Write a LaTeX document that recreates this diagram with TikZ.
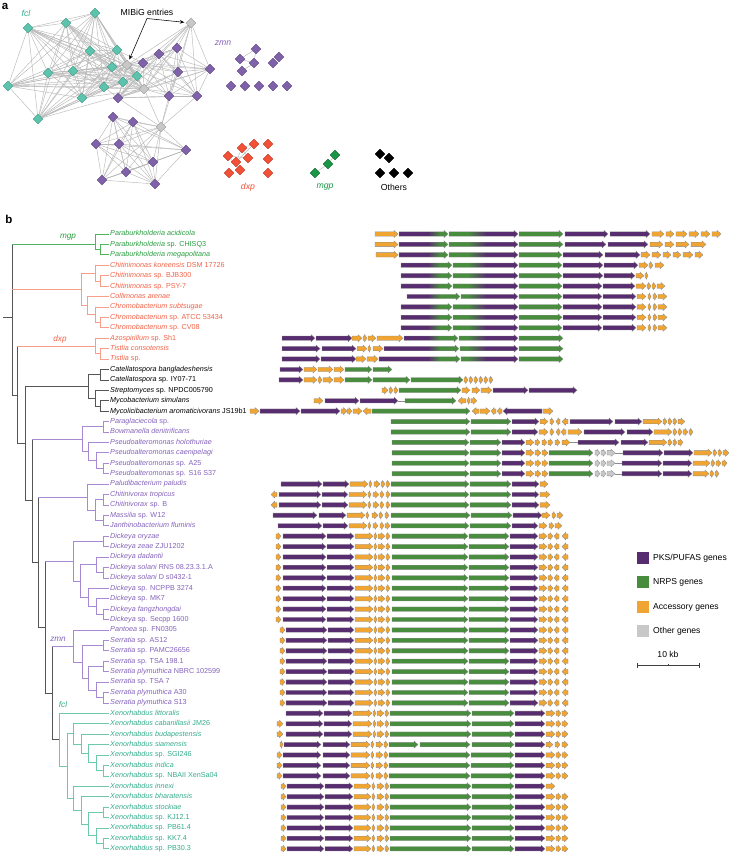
\documentclass[tikz,border=0pt]{standalone}
\usepackage{fontspec}
\setmainfont{Liberation Sans}
\usetikzlibrary{shapes.geometric,arrows.meta,backgrounds}
\definecolor{cP}{RGB}{88,45,112}
\definecolor{cG}{RGB}{72,140,62}
\definecolor{cO}{RGB}{240,165,50}
\definecolor{cL}{RGB}{200,200,200}
\definecolor{tGt}{RGB}{40,158,64}
\definecolor{tRt}{RGB}{242,98,72}
\definecolor{tVt}{RGB}{132,98,186}
\definecolor{tTt}{RGB}{52,172,140}
\definecolor{bG}{RGB}{80,180,95}
\definecolor{bR}{RGB}{246,158,138}
\definecolor{bK}{RGB}{85,85,85}
\definecolor{bV}{RGB}{168,138,212}
\definecolor{bT}{RGB}{110,200,172}
\definecolor{nT}{RGB}{92,196,174}
\definecolor{nTd}{RGB}{60,150,130}
\definecolor{nV}{RGB}{128,98,170}
\definecolor{nVd}{RGB}{90,68,125}
\definecolor{nL}{RGB}{200,200,200}
\definecolor{nLd}{RGB}{150,150,150}
\definecolor{nR}{RGB}{242,80,55}
\definecolor{nRd}{RGB}{190,55,35}
\definecolor{nG}{RGB}{25,150,70}
\definecolor{nGd}{RGB}{15,100,45}
\tikzset{
 gn/.style={draw=black!45,line width=0.3pt},
 leaf/.style={anchor=west,inner sep=0pt,font=\fontsize{7.2}{8}\selectfont,text height=5.2pt,text depth=1.4pt},
 dia/.style={diamond,minimum size=10pt,inner sep=0pt,line width=0.3pt},
 net/.style={draw=black!28,line width=0.45pt},
 plab/.style={inner sep=0pt,font=\fontsize{8.7}{10}\selectfont},
 clab/.style={inner sep=0pt,font=\fontsize{8.2}{10}\selectfont\itshape},
 lg/.style={inner sep=0pt,anchor=west,font=\fontsize{8.6}{10}\selectfont},
 sq/.style={minimum size=12pt,inner sep=0pt},
 pan/.style={inner sep=0pt,font=\fontsize{11.5}{12}\selectfont\bfseries}
}
\newcommand\gene[4]{%
 \pgfmathsetmacro\hd{ifthenelse(#3>#2,1,-1)*min(4,0.6*abs(#3-#2))}%
 \pgfmathsetmacro\xh{#3-\hd}%
 \filldraw[gn,fill=c#4] (#2,#1-2.2) -- (\xh,#1-2.2) -- (\xh,#1-3.6) -- (#3,#1) -- (\xh,#1+3.6) -- (\xh,#1+2.2) -- (#2,#1+2.2) -- cycle;}
\newcommand\grow[2]{%
 \pgfmathsetmacro\ry{234+10.42*#1}%
 \edef\glist{#2}%
 \foreach \a/\b/\c in \glist {\gene{\ry}{\a}{\b}{\c}}}
\newcommand\hyb[7]{%
 \pgfmathsetmacro\ry{234+10.42*#1}%
 \pgfmathsetmacro\hd{min(4,0.6*abs(#3-#2))}%
 \pgfmathsetmacro\xh{#3-\hd}%
 \begin{scope}
 \clip (#2,\ry-2.2) -- (\xh,\ry-2.2) -- (\xh,\ry-3.6) -- (#3,\ry) -- (\xh,\ry+3.6) -- (\xh,\ry+2.2) -- (#2,\ry+2.2) -- cycle;
 \fill[#4] (#2,\ry-5) rectangle (#6,\ry+5);
 \shade[left color=#4,right color=#5] (#6,\ry-5) rectangle (#7,\ry+5);
 \fill[#5] (#7,\ry-5) rectangle (#3,\ry+5);
 \end{scope}
 \draw[gn] (#2,\ry-2.2) -- (\xh,\ry-2.2) -- (\xh,\ry-3.6) -- (#3,\ry) -- (\xh,\ry+3.6) -- (\xh,\ry+2.2) -- (#2,\ry+2.2) -- cycle;}
\newcommand\hAB[4]{\hyb{#1}{#2}{#3}{cP}{cG}{428}{440}\hyb{#1}{#4}{518}{cG}{cP}{468}{486}}
\newcommand\vl[3]{\draw (#1,#2) -- (#1,#3);}
\newcommand\hl[3]{\draw (#1,#3) -- (#2,#3);}
\newcommand\lf[2]{\draw (#1,0 |- l#2.west) -- ([xshift=-1.2pt]l#2.west);}
\def\dickT{283/326/P,327/354/P,355/373/O,374/377/O,378/385/O,386/390/O,392/468/G,469/509/G,510/538/P,539/547/O,548/553/O,559/554/O,568/562/O}
\def\serT{286/327/P,328/354/P,355/373/O,374/377/O,378/385/O,386/390/O,392/468/G,469/509/G,510/538/P,539/547/O,548/553/O,559/554/O,568/562/O}
\def\xenA{324/352/P,353/372/O,373/376/O,377/384/O,385/389/O,390/471/G,472/514/G,515/545/P,546/555/O,556/561/O,562/568/O}
\def\xenB{287/324/P,325/353/P,354/371/O,372/375/O,377/384/O,385/389/O,390/471/G,472/514/G,515/545/P,546/555/O}
\begin{document}
\begin{tikzpicture}[x=1pt,y=-1pt]
\useasboundingbox (0,0) rectangle (731,852);

% ================= panel a =================
\node[pan] (pa) at (5,6) {a};
\foreach \n/\x/\y in {t1/95/13,t2/28/28,t3/66/23,t4/90/51,t5/117/50,t6/48/73,t7/73/71,t8/112/67,t9/8/86,t10/104/87,t11/82/98,t12/123/82,t13/137/76,t14/38/119}
  \node[dia,fill=nT,draw=nTd] (\n) at (\x,\y) {};
\foreach \n/\x/\y in {g1/191/23,g2/127/65,g3/144/89,g4/161/127}
  \node[dia,fill=nL,draw=nLd] (\n) at (\x,\y) {};
\foreach \n/\x/\y in {p1/177/48,p2/159/54,p3/143/63,p4/210/69,p5/178/72,p6/118/98,p7/169/96,p8/197/96,
  q1/113/117,q2/133/122,q3/96/144,q4/119/144,q5/186/150,q6/153/162,q7/126/172,q8/102/180,q9/155/184,
  z1/256/49,z2/240/59,z3/254/63,z4/242/71,z5/273/63,z6/279/57,z7/231/86,z8/245/86,z9/259/86,z10/273/86,z11/287/86}
  \node[dia,fill=nV,draw=nVd] (\n) at (\x,\y) {};
\foreach \n/\x/\y in {d1/228/156,d2/242/148,d3/254/144,d4/268/144,d5/236/162,d6/248/158,d7/268/159,d8/229/173,d9/240/170,d10/268/173}
  \node[dia,fill=nR,draw=nRd] (\n) at (\x,\y) {};
\foreach \n/\x/\y in {m1/315/173,m2/328/164,m3/335/155}
  \node[dia,fill=nG,draw=nGd] (\n) at (\x,\y) {};
\foreach \n/\x/\y in {o1/380/154,o2/389/158,o3/380/173,o4/394/173,o5/408/173}
  \node[dia,fill=black,draw=black] (\n) at (\x,\y) {};
\begin{pgfonlayer}{background}
\def\Tset{t1,t2,t3,t4,t5,t6,t7,t8,t9,t10,t11,t12,t13,t14,g2,g3}
\foreach \u [count=\i] in \Tset {\foreach \v [count=\j] in \Tset {\ifnum\j>\i\relax\draw[net] (\u) -- (\v);\fi}}
\def\Pset{p1,p2,p3,p4,p5,p6,p7,p8,g1,g2,g3}
\foreach \u [count=\i] in \Pset {\foreach \v [count=\j] in \Pset {\ifnum\j>\i\relax\draw[net] (\u) -- (\v);\fi}}
\def\Qset{q1,q2,q3,q4,q5,q6,q7,q8,q9,g4}
\foreach \u [count=\i] in \Qset {\foreach \v [count=\j] in \Qset {\ifnum\j>\i\relax\draw[net] (\u) -- (\v);\fi}}
\foreach \u/\v in {g4/p6,g4/p7,g4/p8,g4/g3,g4/p5,t13/p3,t12/p6,t10/p6,t8/p3,t5/p3,t13/p6,t12/p3,
  z2/z1,z2/z3,z1/z3,z4/z3,z5/z6,d1/d6,d2/d3,d5/d3,d2/d6,d1/d9,d5/d2,m1/m2,m2/m3}
  \draw[net] (\u) -- (\v);
\end{pgfonlayer}
\node[plab,text=tTt,font=\fontsize{8.7}{10}\selectfont\itshape] (lfcl) at (26,13) {fcl};
\node[plab,text=tVt,font=\fontsize{8.7}{10}\selectfont\itshape] (lzmn) at (223,43) {zmn};
\node[plab,text=nR,font=\fontsize{8.7}{10}\selectfont\itshape] (ldxp) at (248,187) {dxp};
\node[plab,text=nG,font=\fontsize{8.7}{10}\selectfont\itshape] (lmgp) at (325,187) {mgp};
\node[plab] (loth) at (394,187) {Others};
\node[plab] (mib) at (147,12) {MIBiG entries};
\coordinate (mb) at (147,18.5);
\draw[-{Stealth[length=4.5pt,width=3.5pt]},line width=0.55pt,shorten >=2pt] (mb) -- (g1);
\draw[-{Stealth[length=4.5pt,width=3.5pt]},line width=0.55pt,shorten >=2pt] (mb) -- (g2);

% ================= panel b =================
\node[pan] (pb) at (9,219) {b};

% leaves
\foreach \t [count=\i from 0] in {{\textit{Paraburkholderia acidicola}},{\textit{Paraburkholderia} sp. CHISQ3},{\textit{Paraburkholderia megapolitana}}}
  \node[leaf,text=tGt] (l\i) at (110,{234+10.42*\i}) {\t};
\foreach \t [count=\i from 3] in {{\textit{Chitinimonas koreensis} DSM 17726},{\textit{Chitinimonas} sp. BJB300},{\textit{Chitinimonas} sp. PSY-7},{\textit{Collimonas arenae}},{\textit{Chromobacterium subtsugae}},{\textit{Chromobacterium} sp. ATCC 53434},{\textit{Chromobacterium} sp. CV08},{\textit{Azospirillum} sp. Sh1},{\textit{Tistlia consotensis}},{\textit{Tistlia} sp.}}
  \node[leaf,text=tRt] (l\i) at (110,{234+10.42*\i}) {\t};
\foreach \t [count=\i from 13] in {{\textit{Catellatospora bangladeshensis}},{\textit{Catellatospora} sp. IY07-71},{\textit{Streptomyces} sp. NPDC005790},{\textit{Mycobacterium simulans}},{\textit{Mycolicibacterium aromaticivorans} JS19b1}}
  \node[leaf,text=black] (l\i) at (110,{234+10.42*\i}) {\t};
\foreach \t [count=\i from 18] in {{\textit{Paraglaciecola} sp.},{\textit{Bowmanella denitrificans}},{\textit{Pseudoalteromonas holothuriae}},{\textit{Pseudoalteromonas caenipelagi}},{\textit{Pseudoalteromonas} sp. A25},{\textit{Pseudoalteromonas} sp. S16 S37},{\textit{Paludibacterium paludis}},{\textit{Chitinivorax tropicus}},{\textit{Chitinivorax} sp. B},{\textit{Massilia} sp. W12},{\textit{Janthinobacterium fluminis}},{\textit{Dickeya oryzae}},{\textit{Dickeya zeae} ZJU1202},{\textit{Dickeya dadantii}},{\textit{Dickeya solani} RNS 08.23.3.1.A},{\textit{Dickeya solani} D s0432-1},{\textit{Dickeya} sp. NCPPB 3274},{\textit{Dickeya} sp. MK7},{\textit{Dickeya fangzhongdai}},{\textit{Dickeya} sp. Secpp 1600},{\textit{Pantoea} sp. FN0305},{\textit{Serratia} sp. AS12},{\textit{Serratia} sp. PAMC26656},{\textit{Serratia} sp. TSA 198.1},{\textit{Serratia plymuthica} NBRC 102599},{\textit{Serratia} sp. TSA 7},{\textit{Serratia plymuthica} A30},{\textit{Serratia plymuthica} S13}}
  \node[leaf,text=tVt] (l\i) at (110,{234+10.42*\i}) {\t};
\foreach \t [count=\i from 46] in {{\textit{Xenorhabdus littoralis}},{\textit{Xenorhabdus cabanillasii} JM26},{\textit{Xenorhabdus budapestensis}},{\textit{Xenorhabdus siamensis}},{\textit{Xenorhabdus} sp. SGI246},{\textit{Xenorhabdus indica}},{\textit{Xenorhabdus} sp. NBAII XenSa04},{\textit{Xenorhabdus innexi}},{\textit{Xenorhabdus bharatensis}},{\textit{Xenorhabdus stockiae}},{\textit{Xenorhabdus} sp. KJ12.1},{\textit{Xenorhabdus} sp. PB61.4},{\textit{Xenorhabdus} sp. KK7.4},{\textit{Xenorhabdus} sp. PB30.3}}
  \node[leaf,text=tTt] (l\i) at (110,{234+10.42*\i}) {\t};

% tree
\begin{scope}[line width=0.7pt,line cap=rect]
\begin{scope}[bK]
\draw (3,317) -- (12,317);
\vl{12}{244.4}{394.9}
\hl{12}{17}{394.9} \vl{17}{346.0}{443.5}
\hl{17}{25}{443.5} \vl{25}{386.4}{500.6}
\hl{25}{32}{500.6} \vl{32}{439.2}{562.1}
\hl{32}{38}{562.1} \vl{38}{497.1}{627.1}
\hl{38}{45}{627.1} \vl{45}{561.3}{692.9}
\hl{45}{52}{692.9} \vl{52}{646.0}{739.7}
\hl{52}{59}{739.7}
\hl{25}{88}{386.4} \vl{88}{374.7}{398.1}
\hl{88}{100}{374.7} \vl{100}{369.5}{379.9} \lf{100}{13} \lf{100}{14}
\hl{88}{95}{398.1} \vl{95}{390.3}{405.9} \lf{95}{15}
\hl{95}{100}{405.9} \vl{100}{400.7}{411.1} \lf{100}{16} \lf{100}{17}
\end{scope}
\begin{scope}[bG]
\hl{12}{95}{244.4} \vl{95}{234.0}{249.6} \lf{95}{0}
\hl{95}{100}{249.6} \vl{100}{244.4}{254.8} \lf{100}{1} \lf{100}{2}
\end{scope}
\begin{scope}[bR]
\hl{12}{81}{289.4} \vl{81}{273.1}{305.6}
\hl{81}{95}{273.1} \vl{95}{265.3}{280.9} \lf{95}{3}
\hl{95}{100}{280.9} \vl{100}{275.7}{286.1} \lf{100}{4} \lf{100}{5}
\hl{81}{87}{305.6} \vl{87}{296.5}{314.7} \lf{87}{6}
\hl{87}{95}{314.7} \vl{95}{306.9}{322.6} \lf{95}{7}
\hl{95}{100}{322.6} \vl{100}{317.4}{327.8} \lf{100}{8} \lf{100}{9}
\hl{17}{95}{346.0} \vl{95}{338.2}{353.8} \lf{95}{10}
\hl{95}{100}{353.8} \vl{100}{348.6}{359.0} \lf{100}{11} \lf{100}{12}
\end{scope}
\begin{scope}[bV]
\hl{32}{82}{439.2} \vl{82}{426.8}{451.5}
\hl{82}{103}{426.8} \vl{103}{421.6}{432.0} \lf{103}{18} \lf{103}{19}
\hl{82}{88}{451.5} \vl{88}{442.4}{460.6} \lf{88}{20}
\hl{88}{96}{460.6} \vl{96}{452.8}{468.4} \lf{96}{21}
\hl{96}{103}{468.4} \vl{103}{463.2}{473.7} \lf{103}{22} \lf{103}{23}
\hl{38}{87}{497.1} \vl{87}{484.1}{510.1} \lf{87}{24}
\hl{87}{95}{510.1} \vl{95}{499.7}{520.6}
\hl{95}{103}{499.7} \vl{103}{494.5}{504.9} \lf{103}{25} \lf{103}{26}
\hl{95}{103}{520.6} \vl{103}{515.3}{525.8} \lf{103}{27} \lf{103}{28}
\hl{45}{73}{561.3} \vl{73}{541.4}{581.1}
\hl{73}{103}{541.4} \vl{103}{536.2}{546.6} \lf{103}{29} \lf{103}{30}
\hl{73}{80}{581.1} \vl{80}{564.8}{597.4}
\hl{80}{96}{564.8} \vl{96}{557.0}{572.7} \lf{96}{31}
\hl{96}{103}{572.7} \vl{103}{567.4}{577.9} \lf{103}{32} \lf{103}{33}
\hl{80}{88}{597.4} \vl{88}{588.3}{606.5} \lf{88}{34}
\hl{88}{96}{606.5} \vl{96}{598.7}{614.3} \lf{96}{35}
\hl{96}{103}{614.3} \vl{103}{609.1}{619.5} \lf{103}{36} \lf{103}{37}
\hl{52}{73}{646.0} \vl{73}{630.0}{661.9} \lf{73}{38}
\hl{73}{82}{661.9} \vl{82}{645.6}{678.2}
\hl{82}{103}{645.6} \vl{103}{640.4}{650.8} \lf{103}{39} \lf{103}{40}
\hl{82}{88}{678.2} \vl{88}{666.4}{689.9}
\hl{88}{103}{666.4} \vl{103}{661.2}{671.6} \lf{103}{41} \lf{103}{42}
\hl{88}{96}{689.9} \vl{96}{682.1}{697.7} \lf{96}{43}
\hl{96}{103}{697.7} \vl{103}{692.5}{702.9} \lf{103}{44} \lf{103}{45}
\end{scope}
\begin{scope}[bT]
\vl{59}{713.3}{766.1} \lf{59}{46}
\hl{59}{67}{766.1} \vl{67}{733.8}{798.3}
\hl{67}{73}{733.8} \vl{73}{723.7}{743.9} \lf{73}{47}
\hl{73}{81}{743.9} \vl{81}{734.2}{753.7} \lf{81}{48}
\hl{81}{88}{753.7} \vl{88}{744.6}{762.8} \lf{88}{49}
\hl{88}{96}{762.8} \vl{96}{755.0}{770.6} \lf{96}{50}
\hl{96}{103}{770.6} \vl{103}{765.4}{775.8} \lf{103}{51} \lf{103}{52}
\hl{67}{73}{798.3} \vl{73}{786.3}{810.4} \lf{73}{53}
\hl{73}{81}{810.4} \vl{81}{796.7}{824.0} \lf{81}{54}
\hl{81}{88}{824.0} \vl{88}{812.3}{835.8}
\hl{88}{103}{812.3} \vl{103}{807.1}{817.5} \lf{103}{55} \lf{103}{56}
\hl{88}{96}{835.8} \vl{96}{827.9}{843.6} \lf{96}{57}
\hl{96}{103}{843.6} \vl{103}{838.4}{848.8} \lf{103}{58} \lf{103}{59}
\end{scope}
\end{scope}
\node[clab,text=tGt] (cmgp) at (68,237) {mgp};
\node[clab,text=tRt] (cdxp) at (60,339) {dxp};
\node[clab,text=tVt] (czmn) at (58,639) {zmn};
\node[clab,text=tTt] (cfcl) at (63,705) {fcl};

% gene backbone gaps
\draw[black!45,line width=0.4pt] (398,400.7) -- (405,400.7);
\draw[black!45,line width=0.4pt] (570,442.4) -- (578,442.4);
\foreach \yy in {452.8,463.2,473.7} \draw[black!45,line width=0.4pt] (615,\yy) -- (623,\yy);

% gene clusters
\grow{0}{375/398/O,519/563/G,565/608/P,610/650/P,652/664/O,666/674/O,676/687/O,689/699/O,701/710/O,712/721/O}
\hAB{0}{399}{448}{449}
\grow{1}{375/398/O,519/563/G,565/606/P,608/648/P,650/663/O,665/674/O,676/689/O,691/706/O}
\hAB{1}{399}{448}{449}
\grow{2}{376/398/O,519/562/G,563/603/P,605/640/P,641/650/O,652/661/O,663/671/O,673/681/O,683/693/O,695/703/O}
\hAB{2}{399}{448}{449}
\grow{3}{519/562/G,563/603/P,604/638/P,639/648/O,649/653/O,655/664/O}
\hAB{3}{401}{452}{453}
\grow{4}{519/562/G,563/603/P,604/635/P,636/644/O,645/648/O}
\hAB{4}{401}{452}{453}
\grow{5}{519/562/G,563/602/P,603/635/P,636/646/O,647/651/O,652/656/O,657/665/O}
\hAB{5}{401}{452}{453}
\foreach \r in {6,...,9}{\grow{\r}{519/562/G,563/602/P,603/636/P,637/646/O,648/651/O,653/657/O,658/667/O}}
\hAB{6}{407}{460}{461}
\hAB{7}{401}{452}{453}
\hAB{8}{401}{452}{453}
\hAB{9}{401}{452}{453}
\grow{10}{282/315/P,316/352/P,352/362/O,363/367/O,368/376/O,377/403/O,519/563/G}
\hAB{10}{404}{458}{459}
\grow{11}{282/320/P,322/356/P,357/367/O,368/371/O,373/383/O,519/563/G}
\hAB{11}{384}{459}{460}
\grow{12}{282/320/P,321/356/P,356/366/O,367/378/O,519/563/G}
\hAB{12}{379}{460}{461}
\grow{13}{280/303/P,304/317/O,318/333/O,334/344/O,345/372/G,373/392/G}
\grow{14}{279/303/P,304/317/O,318/322/O,323/333/O,334/344/O,345/372/G,373/410/G,411/463/G,464/468/O,469/473/O,474/478/O,479/483/O,484/488/O,489/493/O}
\grow{15}{382/388/O,389/393/O,394/398/O,399/461/G,462/470/O,472/480/O,481/492/O,493/528/P,529/577/P}
\grow{16}{314/323/O,325/359/P,360/398/P,405/456/G,466/458/O,470/467/O,471/477/O}
\grow{17}{250/259/O,260/300/P,301/340/P,341/347/O,347/352/O,353/362/O,371/363/O,372/470/G,479/472/O,480/490/O,496/491/O,502/497/O,542/503/P,543/553/O}
\grow{18}{391/470/G,471/511/G,512/539/P,540/548/O,550/554/O,560/556/O,568/562/O,570/613/P,615/642/P,643/662/O,663/667/O,668/672/O,673/677/O,678/685/O}
\grow{19}{391/470/G,471/511/G,512/538/P,539/548/O,550/554/O,560/556/O,566/561/O,568/582/O,584/625/P,627/653/P,654/672/O,673/677/O,678/682/O,683/688/O,689/693/O}
\grow{20}{392/469/G,470/501/G,502/525/P,526/534/O,535/540/O,542/547/O,548/553/O,555/560/O,562/570/O,578/619/P,621/648/P,649/667/O,668/672/O,673/677/O,678/683/O}
\grow{21}{392/469/G,470/501/G,502/525/P,526/534/O,535/541/O,542/548/O,549/593/G,595/600/L,601/606/L,607/615/L,623/663/P,664/693/P,694/712/O,713/717/O,718/722/O,723/729/O}
\grow{22}{392/469/G,470/501/G,502/525/P,526/534/O,535/541/O,542/548/O,549/593/G,595/600/L,601/606/L,607/615/L,622/662/P,663/692/P,693/710/O,711/715/O,716/721/O,722/727/O}
\grow{23}{392/469/G,470/501/G,502/525/P,526/534/O,535/541/O,542/548/O,549/593/G,595/600/L,601/606/L,607/615/L,622/662/P,663/692/P,693/709/O,710/714/O,715/719/O}
\grow{24}{281/322/P,323/349/P,350/368/O,369/372/O,374/380/O,381/385/O,386/390/O,391/469/G,470/511/G,512/539/P,540/548/O}
\foreach \r in {25,26}{\grow{\r}{277/271/O,279/321/P,322/348/P,349/367/O,368/371/O,373/379/O,380/384/O,386/390/O,391/469/G,470/511/G,512/539/P,540/550/O}}
\grow{27}{273/317/P,319/346/P,347/365/O,366/369/O,372/378/O,379/383/O,385/389/O,391/470/G,471/512/G,513/542/P,542/550/O,552/556/O,557/563/O}
\grow{28}{278/322/P,323/348/P,349/367/O,368/371/O,373/378/O,380/384/O,385/390/O,391/469/G,470/511/G,512/538/P,539/547/O,549/554/O,555/562/O}
\foreach \r in {29,...,37}{\grow{\r}{276/281/O,\dickT}}
\foreach \r in {38,...,45}{\grow{\r}{280/285/O,\serT}}
\grow{46}{286/323/P,\xenA}
\foreach \r in {47,48}{\grow{\r}{277/283/O,286/323/P,\xenA}}
\grow{49}{280/283/O,284/321/P,323/350/P,351/370/O,371/374/O,376/383/O,384/388/O,389/418/G,420/470/G,472/514/G,515/545/P,546/553/O,555/560/O,562/568/O}
\foreach \r in {50,51,52}{\grow{\r}{277/282/O,283/321/P,323/350/P,351/370/O,371/374/O,376/383/O,384/388/O,389/470/G,471/514/G,515/545/P,546/555/O,556/561/O,562/568/O}}
\grow{53}{281/286/O,\xenB}
\foreach \r in {54,...,59}{\grow{\r}{281/286/O,\xenB,556/561/O,562/568/O}}

% legend
\node[sq,fill=cP] (k1) at (643,558) {};
\node[lg] (k1t) at (653,558) {PKS/PUFAS genes};
\node[sq,fill=cG] (k2) at (643,582) {};
\node[lg] (k2t) at (653,582) {NRPS genes};
\node[sq,fill=cO] (k3) at (643,607) {};
\node[lg] (k3t) at (653,607) {Accessory genes};
\node[sq,fill=cL] (k4) at (643,631) {};
\node[lg] (k4t) at (653,631) {Other genes};
\node[inner sep=0pt,font=\fontsize{8.6}{10}\selectfont] (kb) at (668,654) {10 kb};
\coordinate (sbL) at (637,665);
\coordinate (sbR) at (699,665);
\draw[black!75,line width=0.6pt] (sbL) -- (sbR);
\draw[black!75,line width=0.6pt] (637,662.5) -- (637,667.5) (699,662.5) -- (699,667.5) (668,663.5) -- (668,665);
\end{tikzpicture}
\end{document}
